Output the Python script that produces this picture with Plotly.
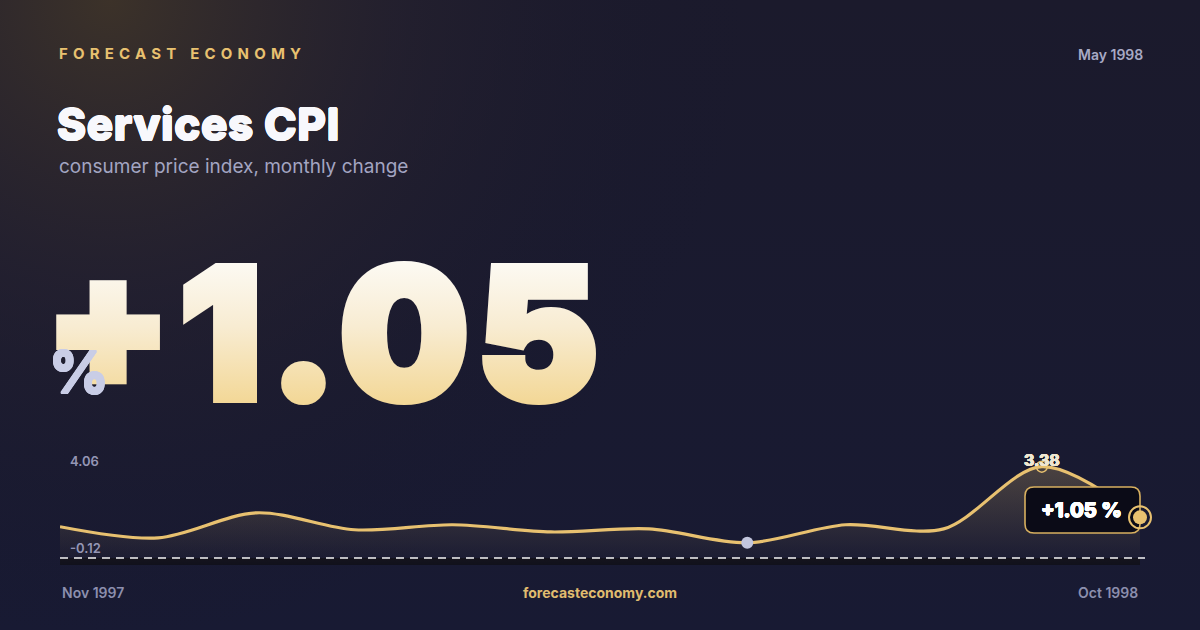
import base64
import plotly.graph_objects as go

# canvas / plot box in pixels
W, H = 1200, 630
L, R, T, B = 60, 40, 452, 65
X_END = 1140  # pixel where the last month sits

months = ["Nov 1997", "Dec 1997", "Jan 1998", "Feb 1998", "Mar 1998", "Apr 1998",
          "May 1998", "Jun 1998", "Jul 1998", "Aug 1998", "Sep 1998", "Oct 1998"]
cpi_change = [0.62, 0.11, 1.26, 0.48, 0.71, 0.38, 0.52, -0.12, 0.71, 0.52, 3.38, 1.05]

brand = "FORECAST ECONOMY"
title = "Services CPI"
subtitle = "consumer price index, monthly change"
stamp = "May 1998"
site = "forecasteconomy.com"

GOLD = "#e8c170"
BG = "#17172c"
BIG = "#f8e8c4"

last = cpi_change[-1]
i_max = cpi_change.index(max(cpi_change))
i_min = cpi_change.index(min(cpi_change))
y_top = max(cpi_change) * 1.2
y_bot = -1.14
n = len(months)
x_hi = (n - 1) * (W - L - R) / (X_END - L)


def px(x):
    return (x - L) / (W - L - R)


def py(y):
    return (H - B - y) / (H - T - B)


def rrect(x0, y0, x1, y1, r):
    pts = [
        ("M", x0 + r, y0), ("L", x1 - r, y0), ("Q", x1, y0, x1, y0 + r),
        ("L", x1, y1 - r), ("Q", x1, y1, x1 - r, y1), ("L", x0 + r, y1),
        ("Q", x0, y1, x0, y1 - r), ("L", x0, y0 + r), ("Q", x0, y0, x0 + r, y0),
    ]
    out = []
    for p in pts:
        xy = p[1:]
        coords = [f"{px(xy[k]):.5f},{py(xy[k + 1]):.5f}" for k in range(0, len(xy), 2)]
        out.append(p[0] + " " + " ".join(coords))
    return " ".join(out) + " Z"


def bolden(color, d):
    # fake a heavier weight with same-colour text shadows
    offs = [(d, 0), (-d, 0), (0, d), (0, -d), (d * .7, d * .7), (-d * .7, d * .7),
            (d * .7, -d * .7), (-d * .7, -d * .7)]
    return ", ".join(f"{a:.1f}px {b:.1f}px 0px {color}" for a, b in offs)


# background: navy with a warm glow in the top-left corner
svg = f"""<svg xmlns='http://www.w3.org/2000/svg' width='{W}' height='{H}'>
<defs>
<radialGradient id='g' cx='110' cy='0' r='640' gradientUnits='userSpaceOnUse'>
<stop offset='0' stop-color='#3c3229' stop-opacity='1'/>
<stop offset='0.45' stop-color='#28232f' stop-opacity='0.6'/>
<stop offset='1' stop-color='#17172c' stop-opacity='0'/>
</radialGradient>
<linearGradient id='v' x1='0' y1='0' x2='0' y2='1'>
<stop offset='0' stop-color='#1b1a2c'/>
<stop offset='1' stop-color='#181a33'/>
</linearGradient>
</defs>
<rect width='{W}' height='{H}' fill='url(#v)'/>
<rect width='{W}' height='{H}' fill='url(#g)'/>
</svg>"""
bg_uri = "data:image/svg+xml;base64," + base64.b64encode(svg.encode()).decode()

fig = go.Figure()

fig.add_trace(go.Scatter(
    x=months, y=[y_bot] * n, mode="lines",
    line=dict(width=0, color="rgba(0,0,0,0)"), hoverinfo="skip", showlegend=False,
))
fig.add_trace(go.Scatter(
    x=months, y=cpi_change, mode="lines", fill="tonexty",
    fillgradient=dict(type="vertical", start=y_bot, stop=max(cpi_change),
                      colorscale=[[0, "rgba(232,193,112,0.0)"], [1, "rgba(232,193,112,0.24)"]]),
    line=dict(color=GOLD, width=3.2, shape="spline", smoothing=0.9),
    hoverinfo="skip", showlegend=False,
))
fig.add_trace(go.Scatter(
    x=[months[i_min]], y=[cpi_change[i_min]], mode="markers",
    marker=dict(size=12, color="#c3c6de"), hoverinfo="skip", showlegend=False,
))
fig.add_trace(go.Scatter(
    x=[months[i_max]], y=[cpi_change[i_max]], mode="markers",
    marker=dict(size=11, color="rgba(0,0,0,0)", line=dict(color=GOLD, width=1.5)),
    hoverinfo="skip", showlegend=False,
))

shapes = [
    dict(type="rect", xref="paper", yref="paper", x0=px(60), x1=px(1140),
         y0=py(565), y1=py(558), fillcolor="#11111c", line=dict(width=0), layer="below"),
    dict(type="line", xref="paper", yref="paper", x0=px(60), x1=px(1145),
         y0=py(558), y1=py(558), line=dict(color="rgba(255,255,255,0.95)", width=1.4, dash="8px,6px"),
         layer="above"),
    dict(type="path", xref="paper", yref="paper", path=rrect(1025, 487, 1140, 533, 9),
         fillcolor="#0b0b17", line=dict(color="#d8b060", width=1.6), layer="above"),
    dict(type="circle", xref="x", yref="y", xsizemode="pixel", ysizemode="pixel",
         xanchor=n - 1, yanchor=last, x0=-11, x1=11, y0=-11, y1=11,
         fillcolor="rgba(0,0,0,0)", line=dict(color=GOLD, width=2), layer="above"),
    dict(type="circle", xref="x", yref="y", xsizemode="pixel", ysizemode="pixel",
         xanchor=n - 1, yanchor=last, x0=-7, x1=7, y0=-7, y1=7,
         fillcolor=GOLD, line=dict(width=0), layer="above"),
]

F = "Inter"


def txt(s, x, y, size, color, xanchor="left", weight=400, shadow=None, **kw):
    font = dict(family=F, size=size, color=color, weight=weight)
    if shadow:
        font["shadow"] = shadow
    return dict(text=s, xref="paper", yref="paper", x=px(x), y=py(y), xanchor=xanchor,
                yanchor="middle", showarrow=False, font=font, **kw)


# headline number: white-to-gold fill, thickened with a stroke of the same paint
big_text = f"{last:+.2f}"
paint = f"url(#bigGrad) {BIG}"
big_style = (f"fill:{paint};stroke:{paint};stroke-width:8px;stroke-linejoin:miter;"
             "paint-order:stroke;letter-spacing:8px")
big_html = (f"<span style='{big_style};baseline-shift:13px'>{big_text[0]}</span>"
            f"<span style='{big_style}'>{big_text[1:]}</span>")

annotations = [
    txt(f"<span style='letter-spacing:5.2px'>{brand}</span>", 57, 53, 15, GOLD, weight=700),
    txt(stamp, 1145, 54, 14, "#a7a9c4", xanchor="right", weight=600),
    txt(f"<span style='letter-spacing:0.6px'>{title}</span>", 55, 124, 44, "#f8f8fc",
        weight=800, shadow=bolden("#f8f8fc", 0.7)),
    txt(subtitle, 57, 166, 19, "#a3a5c2", weight=400),
    txt(big_html, 43, 326, 182, BIG, weight=900),
    txt("%", 47, 372, 58, "#c9cde6", weight=800, shadow=bolden("#c9cde6", 0.8)),
    txt(f"{y_top:.2f}", 68, 461, 13, "#9496b5", weight=600),
    txt(f"{min(cpi_change):.2f}", 68, 548, 13, "#9496b5", weight=600),
    dict(text=f"{max(cpi_change):.2f}", x=i_max, y=max(cpi_change), xref="x", yref="y",
         yshift=7, yanchor="middle", showarrow=False,
         font=dict(family=F, size=16, color="#efe6d2", weight=700,
                   shadow=bolden("#efe6d2", 0.4))),
    txt(f"{last:+.2f} %", 1081, 510, 20, "#ffffff", xanchor="center", weight=800,
        shadow=bolden("#ffffff", 0.5)),
    txt(months[0], 60, 592, 14, "#8c8fae", weight=600),
    txt(site, 600, 592, 14, "#e0bc6f", xanchor="center", weight=700),
    txt(months[-1], 1140, 592, 14, "#8c8fae", xanchor="right", weight=600),
]

fig.update_layout(
    width=W, height=H,
    margin=dict(l=L, r=R, t=T, b=B, pad=0),
    paper_bgcolor=BG, plot_bgcolor="rgba(0,0,0,0)",
    xaxis=dict(type="category", range=[0, x_hi], visible=False, fixedrange=True),
    yaxis=dict(range=[y_bot, y_top], visible=False, fixedrange=True),
    shapes=shapes, annotations=annotations,
    images=[dict(source=bg_uri, xref="paper", yref="paper", x=px(0), y=py(0),
                 sizex=px(W) - px(0), sizey=py(0) - py(H), xanchor="left", yanchor="top",
                 sizing="stretch", layer="below")],
    showlegend=False,
)

# gradient used by the headline number
post = """
document.body.style.margin='0';document.body.style.overflow='hidden';
var ns='http://www.w3.org/2000/svg';
var svg=document.querySelector('.main-svg');
var defs=svg.querySelector('defs');
if(!defs){defs=document.createElementNS(ns,'defs');svg.insertBefore(defs,svg.firstChild);}
var g=document.createElementNS(ns,'linearGradient');
g.setAttribute('id','bigGrad');g.setAttribute('x1','0');g.setAttribute('y1','0');
g.setAttribute('x2','0');g.setAttribute('y2','1');
[['0.18','#fdfcf8'],['0.5','#f8ecd2'],['0.82','#f3d898']].forEach(function(s){
  var st=document.createElementNS(ns,'stop');st.setAttribute('offset',s[0]);
  st.setAttribute('stop-color',s[1]);g.appendChild(st);});
defs.appendChild(g);
"""

fig.write_html("out.html", include_plotlyjs=True, config=dict(displayModeBar=False),
               post_script=post)
